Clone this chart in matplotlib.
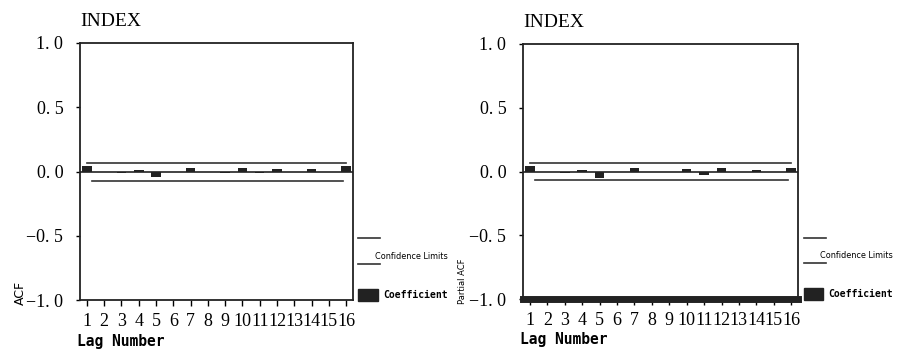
import matplotlib.pyplot as plt
import numpy as np

lags = list(range(1, 17))
acf = [0.04, 0.0, -0.01, 0.01, -0.04, 0.0, 0.03, 0.0, -0.01, 0.03, -0.01, 0.02, 0.0, 0.02, 0.0, 0.04]
pacf = [0.04, 0.0, -0.01, 0.01, -0.05, 0.0, 0.03, -0.005, -0.005, 0.02, -0.03, 0.03, 0.0, 0.01, 0.0, 0.03]
upper_conf = 0.065
lower_conf = -0.07
yticks = [1.0, 0.5, 0.0, -0.5, -1.0]
ytick_labels = ['1. 0', '0. 5', '0. 0', '\u22120. 5', '\u22121. 0']

plt.rcParams['font.family'] = ['Liberation Serif', 'DejaVu Serif']

fig = plt.figure(figsize=(8.99, 3.49), dpi=100)


def draw_panel(rect, vals, ylabel, ylabel_size, thick_bottom=False):
    ax = fig.add_axes(rect)
    ax.bar(lags, vals, width=0.55, color='#222222')
    ax.axhline(0, color='#222222', lw=1.2)
    ax.plot([lags[0], lags[-1]], [upper_conf, upper_conf], color='#333333', lw=1.2)
    ax.plot([1.3, lags[-1] - 0.2], [lower_conf, lower_conf], color='#333333', lw=1.2)
    ax.set_xlim(0.6, 16.4)
    ax.set_ylim(-1.0, 1.0)
    ax.set_yticks(yticks)
    ax.set_yticklabels(ytick_labels, fontsize=13)
    ax.set_xticks(lags)
    ax.set_xticklabels([str(l) for l in lags], fontsize=13)
    ax.tick_params(axis='y', direction='out', length=3, width=1, pad=9)
    ax.tick_params(axis='x', direction='out', length=4, width=1, pad=5)
    for s in ax.spines.values():
        s.set_linewidth(1.3)
        s.set_color('#222222')
    if thick_bottom:
        ax.spines['bottom'].set_linewidth(5)
    ax.set_title('INDEX', loc='left', fontsize=14, pad=12, x=0.0)
    ax.text(-0.01, -0.13, 'Lag Number', transform=ax.transAxes, fontsize=10.5,
            fontweight='bold', ha='left', va='top', family='DejaVu Sans Mono')
    ax.text(-0.22, -0.02, ylabel, transform=ax.transAxes, rotation=90,
            fontsize=ylabel_size, ha='center', va='bottom', family='DejaVu Sans')
    # legend-like key on the right
    ax.plot([1.02, 1.1], [0.24, 0.24], transform=ax.transAxes, color='#333333',
            lw=1.2, clip_on=False)
    ax.plot([1.02, 1.1], [0.14, 0.14], transform=ax.transAxes, color='#333333',
            lw=1.2, clip_on=False)
    ax.text(1.08, 0.17, 'Confidence Limits', transform=ax.transAxes, fontsize=6.5,
            family='DejaVu Sans', stretch='condensed', va='center', ha='left')
    ax.add_patch(plt.Rectangle((1.02, -0.005), 0.07, 0.05, transform=ax.transAxes,
                               color='#222222', clip_on=False))
    ax.text(1.11, 0.02, 'Coefficient', transform=ax.transAxes, fontsize=7,
            family='DejaVu Sans Mono', fontweight='bold', va='center', ha='left')
    return ax


draw_panel([0.089, 0.14, 0.3037, 0.737], acf, 'ACF', 9)
draw_panel([0.5818, 0.143, 0.306, 0.731], pacf, 'Partial ACF', 6, thick_bottom=True)

fig.savefig('out.png', dpi=100)
